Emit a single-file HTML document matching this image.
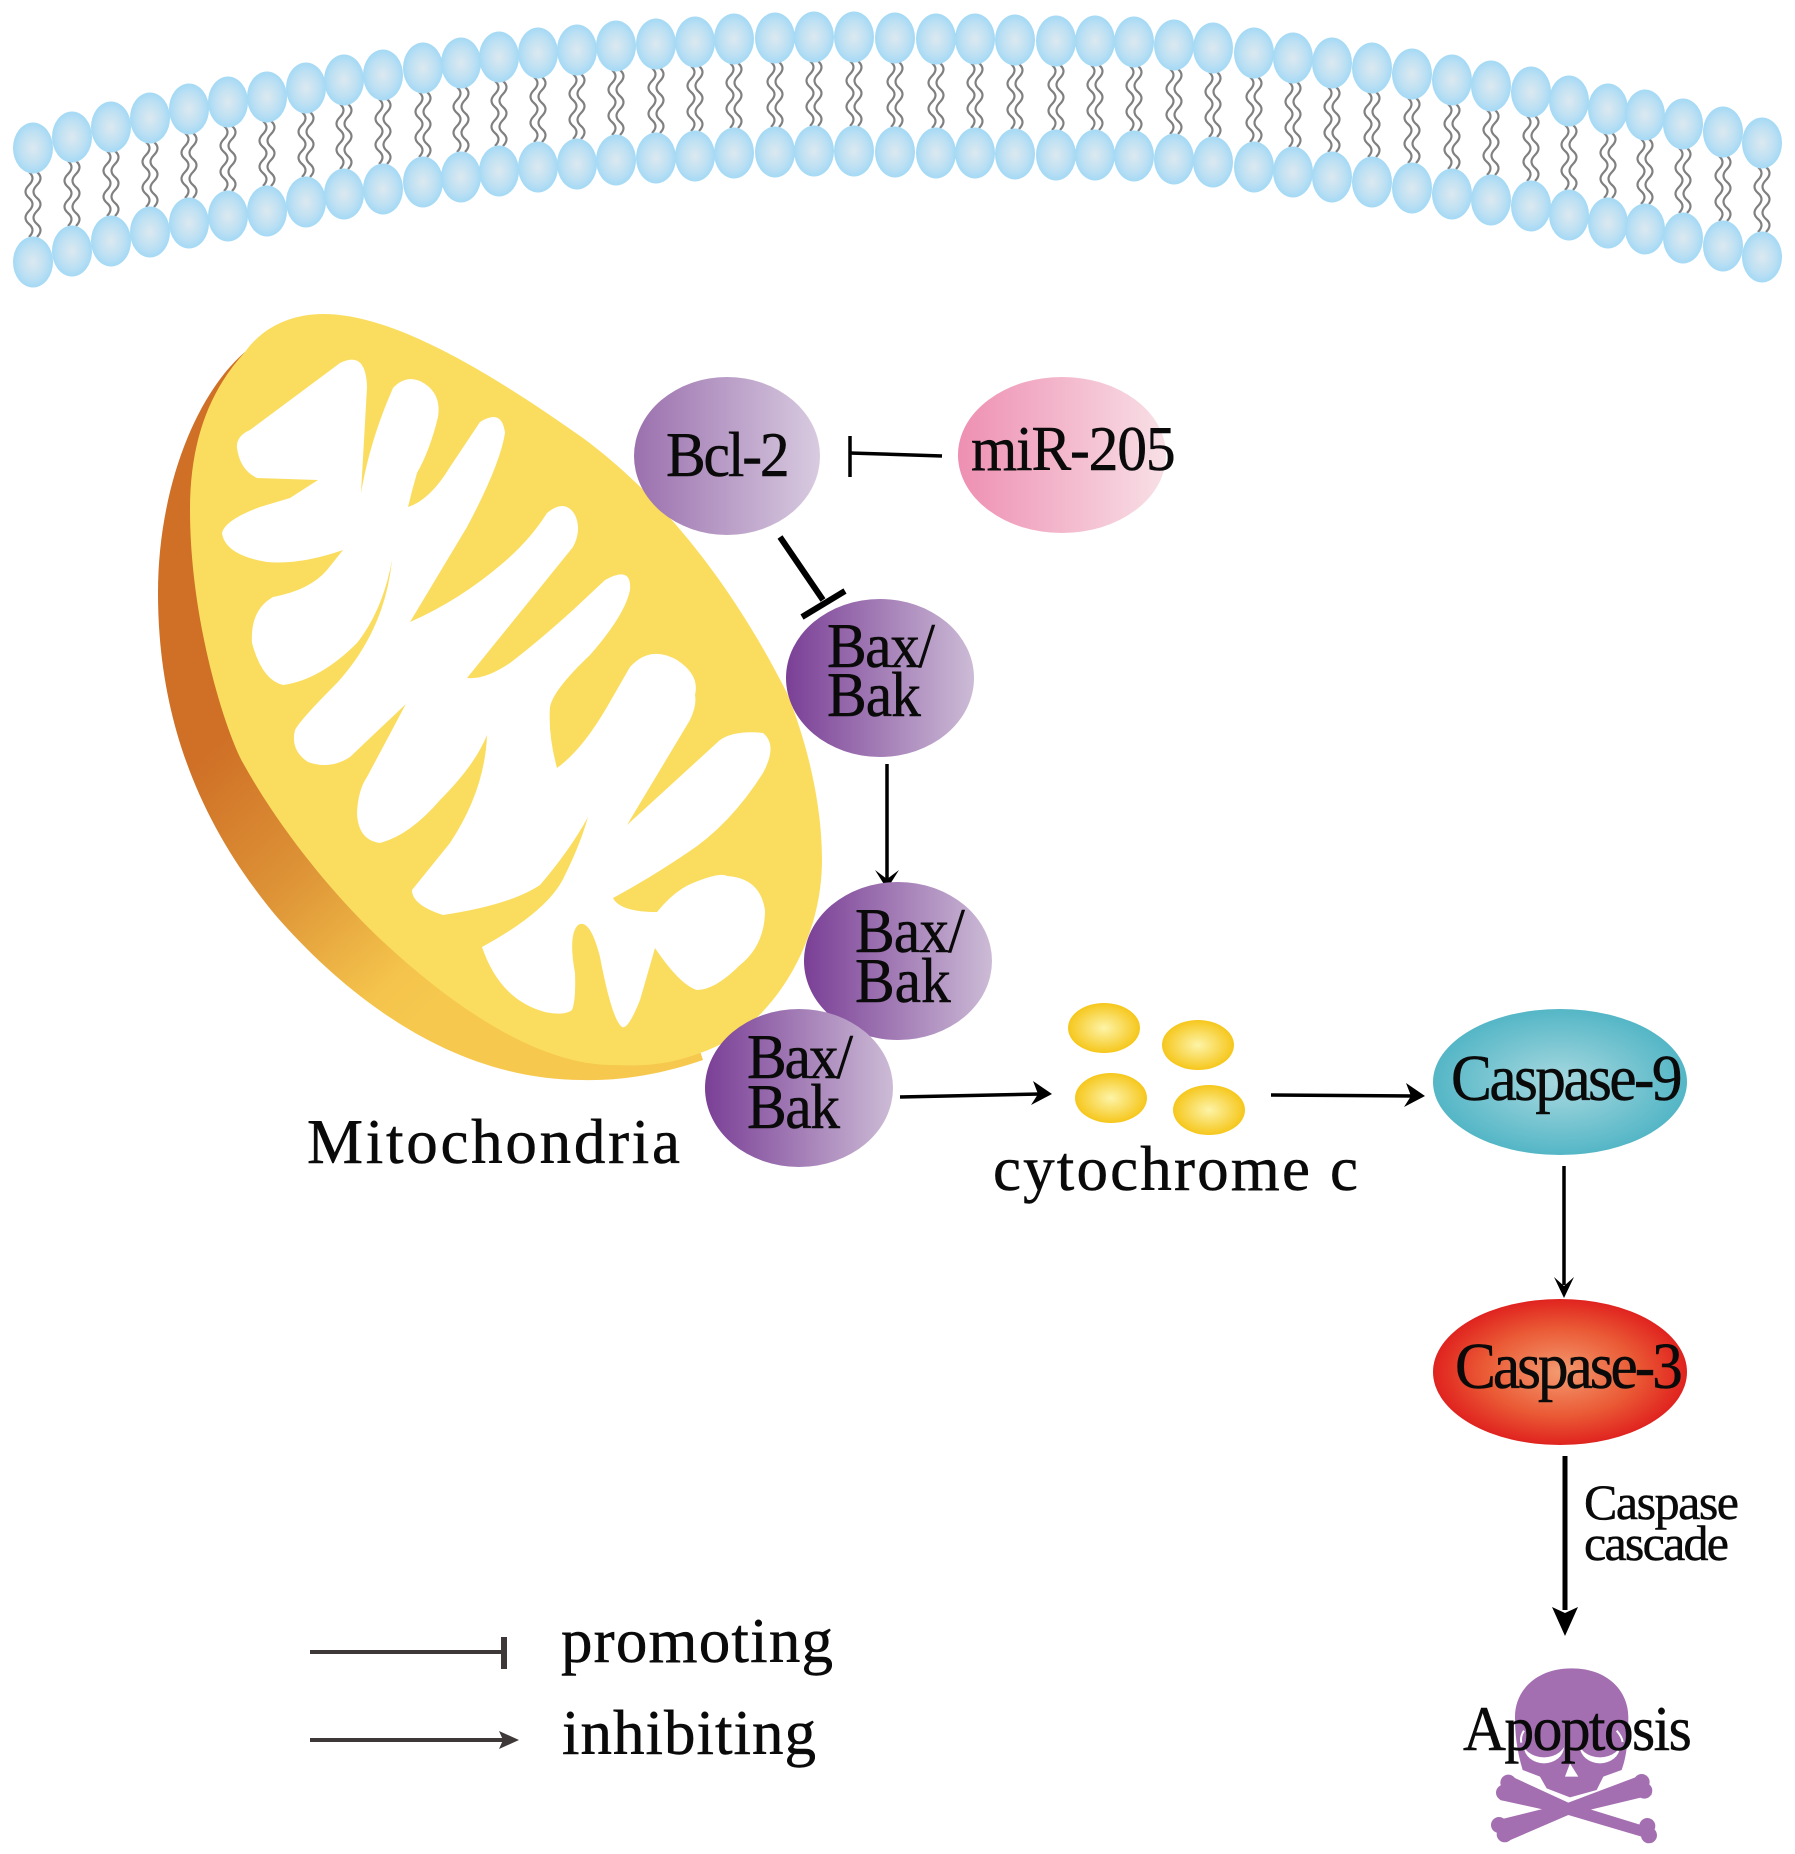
<!DOCTYPE html>
<html><head><meta charset="utf-8"><style>
html,body{margin:0;padding:0;background:#fff}
svg{display:block}
text{font-family:"Liberation Serif",serif;fill:#0a0a0a;stroke:#0a0a0a;stroke-width:.5}
</style></head><body>
<svg xmlns="http://www.w3.org/2000/svg" width="1795" height="1854" viewBox="0 0 1795 1854">
<defs>
<radialGradient id="h" cx=".5" cy=".5" r=".5"><stop offset="0" stop-color="#dce9f0"/><stop offset=".65" stop-color="#bde0f3"/><stop offset="1" stop-color="#a4d9f5"/></radialGradient>
<linearGradient id="orange" gradientUnits="userSpaceOnUse" x1="200" y1="760" x2="430" y2="1010"><stop offset="0" stop-color="#cf7026"/><stop offset=".45" stop-color="#de9437"/><stop offset=".85" stop-color="#f4c34b"/><stop offset="1" stop-color="#f6c84e"/></linearGradient>
<linearGradient id="bcl"><stop offset="0" stop-color="#9b70ae"/><stop offset="1" stop-color="#d8cbe0"/></linearGradient>
<linearGradient id="bax"><stop offset="0" stop-color="#7a3f96"/><stop offset="1" stop-color="#ccbbd6"/></linearGradient>
<linearGradient id="pink"><stop offset="0" stop-color="#ee8fb2"/><stop offset="1" stop-color="#f8e0e6"/></linearGradient>
<radialGradient id="c9"><stop offset="0" stop-color="#a8d9e0"/><stop offset="1" stop-color="#54b6c6"/></radialGradient>
<radialGradient id="c3"><stop offset="0" stop-color="#f49a70"/><stop offset=".6" stop-color="#ea5a35"/><stop offset="1" stop-color="#e0231f"/></radialGradient>
<radialGradient id="cy"><stop offset="0" stop-color="#fdf4a8"/><stop offset="1" stop-color="#f6c71c"/></radialGradient>
<g id="l">
<path d="M-4,24 q7,6 0,13 t0,13 t0,13 t0,13 t0,13 M4,24 q7,6 0,13 t0,13 t0,13 t0,13 t0,13" fill="none" stroke="#808080" stroke-width="2.2"/>
<ellipse rx="20" ry="25.5" fill="url(#h)"/>
<ellipse cy="114" rx="20" ry="25.5" fill="url(#h)"/>
</g>
</defs>
<rect width="1795" height="1854" fill="#fff"/>

<!-- membrane -->
<use href="#l" x="33" y="148"/><use href="#l" x="72" y="137"/><use href="#l" x="111" y="127"/><use href="#l" x="150" y="118"/><use href="#l" x="189" y="109"/><use href="#l" x="228" y="102"/><use href="#l" x="267" y="97"/><use href="#l" x="306" y="88"/><use href="#l" x="344" y="80"/><use href="#l" x="383" y="75"/><use href="#l" x="423" y="68"/><use href="#l" x="461" y="63"/><use href="#l" x="499" y="57"/><use href="#l" x="538" y="53"/><use href="#l" x="577" y="50"/><use href="#l" x="616" y="46"/><use href="#l" x="656" y="44"/><use href="#l" x="695" y="42"/><use href="#l" x="734" y="39"/><use href="#l" x="775" y="38"/><use href="#l" x="814" y="37"/><use href="#l" x="854" y="37"/><use href="#l" x="895" y="38"/><use href="#l" x="936" y="39"/><use href="#l" x="975" y="39"/><use href="#l" x="1015" y="40"/><use href="#l" x="1056" y="41"/><use href="#l" x="1095" y="41"/><use href="#l" x="1134" y="42"/><use href="#l" x="1174" y="45"/><use href="#l" x="1213" y="48"/><use href="#l" x="1254" y="53"/><use href="#l" x="1293" y="58"/><use href="#l" x="1332" y="63"/><use href="#l" x="1372" y="68"/><use href="#l" x="1412" y="74"/><use href="#l" x="1452" y="80"/><use href="#l" x="1491" y="86"/><use href="#l" x="1531" y="92"/><use href="#l" x="1569" y="101"/><use href="#l" x="1608" y="109"/><use href="#l" x="1645" y="115"/><use href="#l" x="1683" y="124"/><use href="#l" x="1723" y="132"/><use href="#l" x="1762" y="143"/>

<!-- mitochondrion -->
<path d="M245,352 C195,395 158,490 158,593 C158,720 200,825 277,917 C350,1000 455,1080 583,1080 C625,1081 665,1073 703,1060 L698,1045 L400,800Z" fill="url(#orange)"/>
<path d="M245,352 C262,328 290,314 323,314 C385,314 470,358 583,438 C680,510 745,610 787,693 C810,750 822,810 822,860 C822,945 770,1030 700,1053 C665,1066 640,1066 613,1065 C540,1065 460,1010 400,957 C340,905 280,830 243,763 C225,730 190,620 190,510 C190,440 210,390 245,352Z" fill="#fadd5f"/>
<path d="M318,480 L257,478 Q240,470 237,448 Q236,436 250,430 L340,363 Q366,350 367,387 L361,493
Q370,440 393,388 Q405,375 420,381 Q442,392 438,417 Q430,450 417,473 Q412,490 408,507 Q430,500 450,467 L480,422 Q502,408 505,433 Q500,465 467,527 L410,622
Q460,600 503,563 Q530,540 547,513 Q565,498 575,515 Q582,530 573,547 L467,678 Q485,680 510,663 Q540,640 573,610 L605,580 Q632,565 630,590 Q625,615 590,655 Q553,690 550,707 Q548,735 557,768
Q582,750 607,707 L630,667 Q650,645 677,660 Q700,675 695,695 Q697,705 690,720 L627,825
L720,740 Q735,730 763,733 Q778,745 763,773 Q730,825 687,853 Q650,878 613,898
Q620,912 657,912 Q675,890 693,883 Q720,872 727,876 Q760,878 765,910 Q765,945 740,965 Q715,990 697,990 Q680,985 655,948
L640,1000 Q628,1030 622,1027 Q612,1020 600,957 Q590,918 578,925 Q568,935 575,973 Q576,1000 572,1010 Q565,1016 545,1012 Q500,1000 482,947
Q550,910 565,875 Q580,845 588,817 Q570,850 540,885 Q510,905 443,915 Q412,905 412,890 L450,843 Q485,790 487,735
Q475,765 440,800 Q410,835 380,843 Q358,840 357,813 Q358,790 367,777 L408,700 L438,657
L407,703 L350,757 Q330,770 308,762 Q290,750 295,730 Q300,720 337,683 Q385,630 392,560
Q383,610 357,643 Q320,680 283,685 Q262,680 252,643 Q250,610 273,597 Q310,590 327,570 L343,550
Q300,565 267,562 Q225,555 222,533 Q225,520 260,507 L290,498Z" fill="#fff"/>

<!-- connectors -->
<g fill="none" stroke="#000">
<path d="M942,456 L850,453" stroke-width="3.5"/>
<path d="M850,436 L850,477" stroke-width="3.5"/>
<path d="M780,537 L823,600" stroke-width="6"/>
<path d="M802,617 L845,591" stroke-width="6"/>
<path d="M887,764 L887,880" stroke-width="3.5"/>
<path d="M900,1097 L1040,1094" stroke-width="3.5"/>
<path d="M1271,1095 L1415,1096" stroke-width="3.5"/>
<path d="M1564,1166 L1564,1285" stroke-width="3.5"/>
<path d="M1565,1456 L1565,1610" stroke-width="5"/>
</g>
<path d="M875,870 L887,879 L899,870 L887,889Z" fill="#000"/>
<path d="M1033,1081 L1052,1094 L1031,1105 L1038,1094Z" fill="#000"/>
<path d="M1406,1083 L1425,1096 L1404,1107 L1411,1096Z" fill="#000"/>
<path d="M1554,1277 L1564,1286 L1574,1277 L1564,1298Z" fill="#000"/>
<path d="M1552,1607 L1565,1613 L1578,1607 L1565,1636Z" fill="#000"/>

<!-- nodes -->
<ellipse cx="727" cy="456" rx="93" ry="79" fill="url(#bcl)"/>
<ellipse cx="1062" cy="455" rx="104" ry="78" fill="url(#pink)"/>
<ellipse cx="880" cy="678" rx="94" ry="79" fill="url(#bax)"/>
<ellipse cx="898" cy="961" rx="94" ry="79" fill="url(#bax)"/>
<ellipse cx="799" cy="1088" rx="94" ry="79" fill="url(#bax)"/>
<ellipse cx="1560" cy="1082" rx="127" ry="73" fill="url(#c9)"/>
<ellipse cx="1560" cy="1372" rx="127" ry="73" fill="url(#c3)"/>
<ellipse cx="1104" cy="1028" rx="36" ry="25" fill="url(#cy)"/>
<ellipse cx="1198" cy="1045" rx="36" ry="25" fill="url(#cy)"/>
<ellipse cx="1111" cy="1098" rx="36" ry="25" fill="url(#cy)"/>
<ellipse cx="1209" cy="1110" rx="36" ry="25" fill="url(#cy)"/>

<!-- legend -->
<path d="M310,1652 H504" stroke="#3f3839" stroke-width="4" fill="none"/>
<path d="M504,1637 V1669" stroke="#3f3839" stroke-width="6" fill="none"/>
<path d="M310,1740 H505" stroke="#3f3839" stroke-width="4" fill="none"/>
<path d="M499,1731 L519,1740 L499,1749 L503,1740Z" fill="#3f3839"/>

<!-- skull -->
<g transform="translate(1400,1600) scale(.3333)" fill="#a46fb1">
<path d="M515,205 C625,205 685,275 685,350 C685,420 680,470 665,510 L610,530 L590,570 L510,592 L440,565 L420,530 L368,510 C350,450 345,400 345,350 C345,275 405,205 515,205Z"/>
<path d="M325,525 L505,608 L755,685 L765,722 L505,645 L300,600Z"/>
<path d="M275,665 L505,608 L725,525 L755,585 L505,645 L320,725Z"/>
<circle cx="325" cy="548" r="24"/><circle cx="312" cy="578" r="24"/>
<circle cx="725" cy="546" r="24"/><circle cx="733" cy="572" r="24"/>
<circle cx="297" cy="675" r="24"/><circle cx="314" cy="703" r="24"/>
<circle cx="742" cy="678" r="24"/><circle cx="747" cy="706" r="24"/>
<ellipse cx="432" cy="440" rx="60" ry="50" fill="#fff"/>
<ellipse cx="432" cy="420" rx="66" ry="52"/>
<ellipse cx="600" cy="440" rx="60" ry="50" fill="#fff"/>
<ellipse cx="600" cy="420" rx="66" ry="52"/>
<path d="M495,530 L510,490 L535,530Z" fill="#fff"/>
<path d="M372,392 Q360,410 364,428 M650,392 Q666,410 668,426" fill="none" stroke="#fff" stroke-width="6"/>
</g>

<!-- labels -->
<text transform="translate(666,476) scale(.93,1)" font-size="64" textLength="133" lengthAdjust="spacing">Bcl-2</text>
<text transform="translate(971,470) scale(.93,1)" font-size="64" textLength="220" lengthAdjust="spacing">miR-205</text>
<text transform="translate(827,667) scale(.93,1)" font-size="64" textLength="116" lengthAdjust="spacing">Bax/</text>
<text transform="translate(827,716) scale(.93,1)" font-size="64" textLength="101" lengthAdjust="spacing">Bak</text>
<text transform="translate(855,952) scale(.93,1)" font-size="64" textLength="118" lengthAdjust="spacing">Bax/</text>
<text transform="translate(855,1002) scale(.93,1)" font-size="64" textLength="103" lengthAdjust="spacing">Bak</text>
<text transform="translate(747,1078) scale(.93,1)" font-size="64" textLength="114" lengthAdjust="spacing">Bax/</text>
<text transform="translate(747,1128) scale(.93,1)" font-size="64" textLength="100" lengthAdjust="spacing">Bak</text>
<text x="307" y="1163" font-size="63" textLength="373" lengthAdjust="spacing">Mitochondria</text>
<text x="993" y="1190" font-size="63" textLength="365" lengthAdjust="spacing">cytochrome c</text>
<text transform="translate(1451,1100) scale(.93,1)" font-size="66" textLength="249" lengthAdjust="spacing">Caspase-9</text>
<text transform="translate(1455,1388) scale(.93,1)" font-size="66" textLength="245" lengthAdjust="spacing">Caspase-3</text>
<text x="1584" y="1519" font-size="50" textLength="155" lengthAdjust="spacing">Caspase</text>
<text x="1584" y="1560" font-size="50" textLength="145" lengthAdjust="spacing">cascade</text>
<text x="561" y="1662" font-size="63" textLength="272" lengthAdjust="spacing">promoting</text>
<text x="562" y="1754" font-size="63" textLength="254" lengthAdjust="spacing">inhibiting</text>
<text transform="translate(1463,1750) scale(.93,1)" font-size="64" textLength="246" lengthAdjust="spacing">Apoptosis</text>
</svg>
</body></html>
